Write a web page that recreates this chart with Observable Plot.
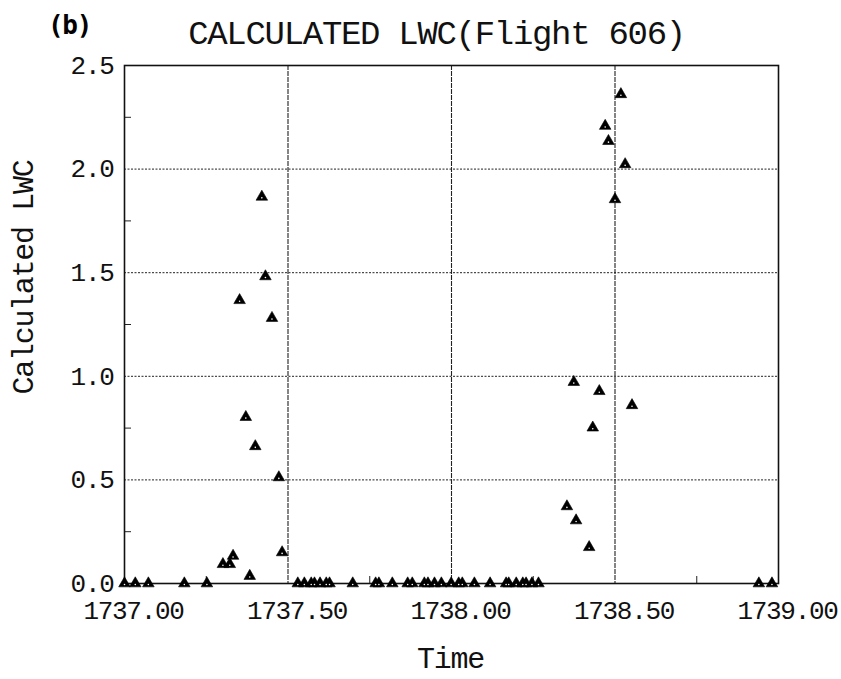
<!DOCTYPE html>
<html>
<head>
<meta charset="utf-8">
<script src="https://cdn.jsdelivr.net/npm/d3@7"></script>
<script src="https://cdn.jsdelivr.net/npm/@observablehq/plot@0.6"></script>
<style>
  html, body { margin: 0; padding: 0; background: #fff; }
</style>
</head>
<body>
<div id="chart"></div>
<script>
const panelLabel = "(b)";
const chartTitle = "CALCULATED LWC(Flight 606)";
const xLabel = "Time";
const yLabel = "Calculated LWC";

const xTicks = [1737.0, 1737.5, 1738.0, 1738.5, 1739.0];
const yTicks = [0.0, 0.5, 1.0, 1.5, 2.0, 2.5];
const xMinor = [1737.25, 1737.75, 1738.25, 1738.75];
const yMinor = [0.25, 0.75, 1.25, 1.75, 2.25];
const xGrid = [1737.5, 1738.0, 1738.5];
const yGrid = [0.5, 1.0, 1.5, 2.0];

const time = [
  1737.000, 1737.033, 1737.073, 1737.183, 1737.252,
  1737.301, 1737.322, 1737.332, 1737.352, 1737.371, 1737.383, 1737.400,
  1737.420, 1737.431, 1737.451, 1737.472, 1737.482,
  1737.530, 1737.550, 1737.571, 1737.581, 1737.598, 1737.617, 1737.627,
  1737.698, 1737.768, 1737.778, 1737.819, 1737.866, 1737.880, 1737.917,
  1737.928, 1737.948, 1737.969, 1737.999, 1738.022, 1738.033, 1738.070,
  1738.118, 1738.167, 1738.175, 1738.198, 1738.218, 1738.228, 1738.246,
  1738.266,
  1738.353, 1738.374, 1738.381, 1738.421, 1738.432, 1738.452, 1738.470,
  1738.480, 1738.500, 1738.518, 1738.531, 1738.552,
  1738.940, 1738.980
];
const lwc = [
  0, 0, 0, 0, 0,
  0.093, 0.093, 0.133, 1.367, 0.803, 0.036, 0.662,
  1.866, 1.482, 1.281, 0.512, 0.150,
  0, 0, 0, 0, 0, 0, 0,
  0, 0, 0, 0, 0, 0, 0,
  0, 0, 0, 0, 0, 0, 0,
  0, 0, 0, 0, 0, 0, 0,
  0,
  0.372, 0.972, 0.304, 0.175, 0.752, 0.928, 2.208,
  2.135, 1.854, 2.361, 2.023, 0.860,
  0, 0
];

const data = time.map((t, i) => ({time: t, lwc: lwc[i]}));

const W = 841, H = 679;
const mL = 124, mR = 63, mT = 65, mB = 96;
const innerW = W - mL - mR, innerH = H - mT - mB;

const chart = Plot.plot({
  width: W,
  height: H,
  marginLeft: mL,
  marginRight: mR,
  marginTop: mT,
  marginBottom: mB,
  style: {
    fontFamily: "'Liberation Mono', 'Courier New', monospace",
    fontSize: "26px",
    letterSpacing: "-1.3px",
    color: "#111",
    background: "#fff"
  },
  x: {domain: [1737, 1739]},
  y: {domain: [0, 2.5]},
  marks: [
    Plot.ruleY(yGrid, {stroke: "#222", strokeWidth: 1, strokeDasharray: "2,1.5"}),
    Plot.ruleX(xGrid, {stroke: "#222", strokeWidth: 1.1, strokeDasharray: "5,1"}),
    Plot.tickY(yMinor, {y: d => d, stroke: "#222", strokeWidth: 1, insetRight: innerW - 7}),
    Plot.tickX(xMinor, {x: d => d, stroke: "#222", strokeWidth: 1, insetTop: innerH - 7}),
    Plot.frame({stroke: "#111", strokeWidth: 1.6}),
    Plot.axisX({
      ticks: xTicks, tickFormat: d3.format(".2f"), tickSize: 0, tickPadding: 17,
      dx: 9, label: null, fill: "#111"
    }),
    Plot.axisY({
      ticks: yTicks, tickFormat: d3.format(".1f"), tickSize: 0, tickPadding: 11,
      label: null, fill: "#111"
    }),
    Plot.dot(data, {x: "time", y: "lwc", symbol: "triangle", r: 4.3, fill: "#000", stroke: "#000", strokeWidth: 0.6}),
    Plot.dot(data, {x: "time", y: "lwc", r: 0.8, fill: "#fff", dy: 1}),
    Plot.text([chartTitle], {
      frameAnchor: "top", text: d => d, fontSize: 34, dx: -15, dy: -32,
      lineAnchor: "middle", fill: "#111"
    }),
    Plot.text([panelLabel], {
      frameAnchor: "top-left", text: d => d, fontSize: 26, fontWeight: "bold",
      fontFamily: "'DejaVu Sans Mono', monospace", textAnchor: "middle",
      dx: -55, dy: -40, lineAnchor: "middle", fill: "#000"
    }),
    Plot.text([yLabel], {
      frameAnchor: "left", text: d => d, fontSize: 30, rotate: -90,
      dx: -101, dy: -47, lineAnchor: "middle", textAnchor: "middle", fill: "#111"
    }),
    Plot.text([xLabel], {
      frameAnchor: "bottom", text: d => d, fontSize: 30, dx: -1, dy: 75,
      lineAnchor: "middle", fill: "#111"
    })
  ]
});

document.getElementById("chart").appendChild(chart);
</script>
</body>
</html>
